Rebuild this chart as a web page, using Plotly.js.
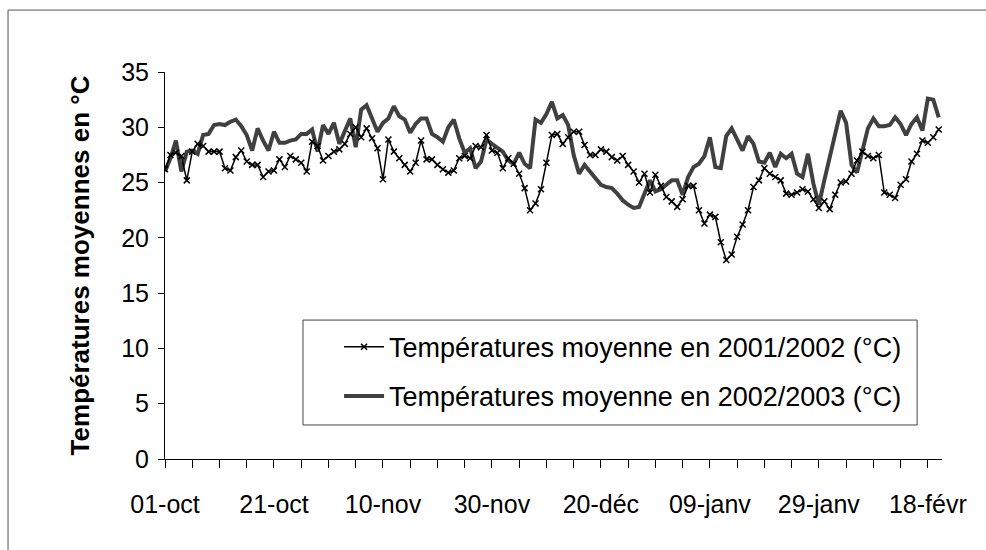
<!DOCTYPE html>
<html>
<head>
<meta charset="utf-8">
<script src="https://cdn.plot.ly/plotly-3.0.1.min.js"></script>
<style>html,body{margin:0;padding:0;background:#fff;}#chart{width:986px;height:550px;}</style>
</head>
<body>
<div id="chart"></div>
<script>
// Daily mean temperatures, day 0 = 01-oct
const temp2001_2002 = [
26.2,27.5,27.7,27.4,25.2,27.8,28.5,28.3,27.8,27.8,
27.8,26.3,26.1,27.3,27.9,26.9,26.6,26.6,25.5,26.0,
26.1,27.1,26.4,27.4,27.1,26.8,26.0,28.7,28.3,27.0,
27.4,27.8,28.0,28.5,29.4,30.0,29.1,29.9,29.0,28.1,
25.3,28.9,27.8,27.2,26.6,26.0,26.8,28.8,27.1,27.1,
26.6,26.2,25.9,26.1,27.2,27.4,27.2,28.3,28.2,29.3,
27.9,27.7,26.3,27.2,26.7,25.8,24.5,22.5,23.1,24.4,
26.8,29.3,29.4,28.5,29.1,29.6,29.6,28.4,27.5,27.5,
28.0,27.8,27.3,27.0,27.4,26.6,26.0,25.0,25.8,24.1,
25.7,24.7,23.7,23.3,22.8,23.5,24.7,24.7,22.5,21.3,
22.1,21.9,19.6,18.0,18.5,20.1,21.2,22.5,24.6,25.2,
26.3,25.8,25.5,25.2,24.0,23.9,24.1,24.4,24.2,23.5,
22.7,23.3,22.6,23.9,25.0,25.1,25.8,27.0,27.8,27.4,
27.2,27.5,24.1,23.9,23.6,24.8,25.3,26.9,27.6,28.8,
28.6,29.1,29.8
];
const temp2002_2003 = [
26.0,27.2,28.8,26.0,27.8,27.9,27.6,29.3,29.4,30.2,
30.3,30.2,30.5,30.7,30.1,29.3,27.9,29.9,28.8,27.9,
29.6,28.6,28.6,28.8,28.9,29.4,29.4,29.8,27.8,30.2,
29.4,30.4,28.5,29.7,30.8,28.2,31.6,32.0,30.8,29.6,
30.4,30.8,31.9,31.0,30.7,29.5,30.3,30.8,30.8,29.4,
29.1,28.7,30.0,30.7,29.0,27.7,28.1,26.3,26.9,28.9,
28.5,28.1,27.8,27.0,26.7,27.7,26.7,26.3,30.7,30.4,
31.2,32.3,30.8,31.1,30.2,27.5,25.8,26.6,26.0,25.5,
24.8,24.6,24.5,24.0,23.4,23.0,22.7,22.8,23.9,25.2,
24.2,24.4,24.8,25.2,25.2,23.9,25.5,26.4,26.7,27.4,
29.1,26.4,26.3,29.2,29.9,28.9,27.9,29.2,28.5,26.9,
26.8,27.7,26.4,27.6,27.2,27.6,25.8,25.5,27.6,24.9,
23.0,25.2,27.3,29.4,31.5,30.4,26.6,25.9,27.9,29.9,
30.8,30.1,30.1,30.2,30.9,30.3,29.3,30.3,30.9,29.7,
32.6,32.5,30.9
];
const tickLabels = ['01-oct','21-oct','10-nov','30-nov','20-déc','09-janv','29-janv','18-févr'];
const labelEvery = 20;   // days between labelled ticks
const tickEvery = 5;     // days between tick marks
const seriesNames = ['Températures moyenne en 2001/2002 (°C)','Températures moyenne en 2002/2003 (°C)'];
const yTitle = 'Températures moyennes en °C';

const days = temp2001_2002.map((_, i) => i);
const tickvals = [], ticktext = [];
for (let d = 0; d <= labelEvery * (tickLabels.length - 1); d += tickEvery) {
  tickvals.push(d);
  ticktext.push(d % labelEvery === 0 ? tickLabels[d / labelEvery] : '');
}

const FONT = 'Liberation Sans, Arial, sans-serif';

const traces = [
  {
    x: days, y: temp2002_2003, type: 'scatter', mode: 'lines',
    name: seriesNames[1], legendgroup: 'b', legendrank: 2,
    line: {color: '#404040', width: 4}
  },
  {
    x: days, y: temp2001_2002, type: 'scatter', mode: 'lines+markers',
    name: seriesNames[0], legendgroup: 'a', legendrank: 1,
    line: {color: '#000000', width: 1.5},
    marker: {symbol: 'x-thin', size: 6, color: '#000', line: {color: '#000', width: 1.5}}
  }
];

const layout = {
  width: 986, height: 550,
  margin: {l: 165, r: 44, t: 72, b: 91},
  paper_bgcolor: '#fff', plot_bgcolor: '#fff',
  font: {family: FONT, size: 25, color: '#000'},
  showlegend: true,
  legend: {
    x: 0.224, y: 0.352, xanchor: 'left', yanchor: 'top',
    bgcolor: 'rgba(0,0,0,0)', borderwidth: 0,
    font: {family: FONT, size: 27, color: '#000'},
    traceorder: 'grouped', tracegroupgap: 11,
    itemwidth: 40
  },
  xaxis: {
    range: [0, 142.6], showgrid: false, zeroline: false,
    showline: true, linecolor: '#000', linewidth: 1,
    tickmode: 'array', tickvals: tickvals, ticktext: ticktext,
    ticks: 'outside', ticklen: 8, tickcolor: '#000', tickwidth: 1,
    ticklabelstandoff: 15,
    tickfont: {family: FONT, size: 25, color: '#000'}
  },
  yaxis: {
    range: [0, 35], dtick: 5, tick0: 0, showgrid: false, zeroline: false,
    showline: true, linecolor: '#000', linewidth: 1,
    ticks: 'outside', ticklen: 6, tickcolor: '#000',
    ticklabelstandoff: 4,
    tickfont: {family: FONT, size: 25, color: '#000'},
    title: {text: yTitle, font: {family: FONT, size: 26, color: '#000', weight: 'bold'}, standoff: 24}
  },
  shapes: [
    {
      type: 'rect', xref: 'paper', yref: 'paper',
      x0: -0.202, x1: 1.06, y0: -0.25, y1: 1.160,
      line: {color: '#555', width: 1}, fillcolor: 'rgba(0,0,0,0)', layer: 'below'
    },
    {
      type: 'rect', xref: 'paper', yref: 'paper',
      x0: 0.1776, x1: 0.968, y0: 0.0879, y1: 0.359,
      line: {color: '#444', width: 1}, fillcolor: '#fff', layer: 'above'
    }
  ]
};

Plotly.newPlot('chart', traces, layout, {displayModeBar: false, staticPlot: true});
</script>
</body>
</html>
